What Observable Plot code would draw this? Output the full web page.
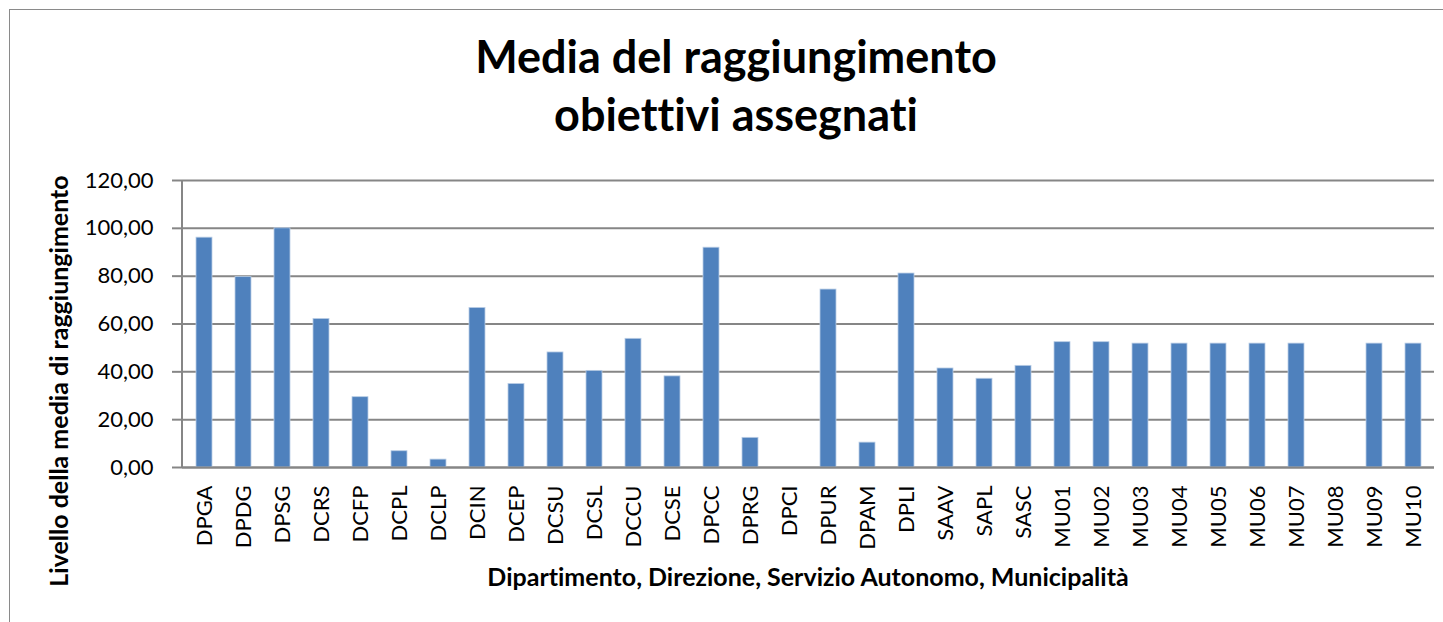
<!DOCTYPE html>
<html>
<head>
<meta charset="utf-8">
<script src="https://cdn.jsdelivr.net/npm/d3@7"></script>
<script src="https://cdn.jsdelivr.net/npm/@observablehq/plot@0.6"></script>
<style>
  html, body { margin: 0; padding: 0; background: #fff; }
  #wrap { position: relative; width: 1443px; height: 622px; overflow: hidden; font-family: Lato, "Open Sans", sans-serif; font-variant-ligatures: none; font-feature-settings: "liga" 0, "clig" 0; }
  #frame { position: absolute; left: 9px; top: 9px; width: 1500px; height: 700px; border: 1px solid #8a8a8a; box-sizing: border-box; }
  #title { position: absolute; left: 386px; top: 27px; width: 700px; text-align: center; font-weight: 700; font-size: 45px; line-height: 58px; color: #000; }
  #xtitle { position: absolute; left: 358px; top: 561px; width: 900px; text-align: center; font-weight: 700; font-size: 25px; line-height: 30px; color: #000; }
  #ytitle { position: absolute; left: -242px; top: 366px; width: 600px; height: 30px; text-align: center; font-weight: 700; font-size: 25px; line-height: 30px; color: #000; transform: rotate(-90deg); transform-origin: 50% 50%; }
  #chart { position: absolute; left: 0; top: 0; }
  #chart svg text { font-variant-ligatures: none; }
</style>
</head>
<body>
<div id="wrap">
  <div id="frame"></div>
  <div id="chart"></div>
  <div id="title">Media del raggiungimento<br>obiettivi assegnati</div>
  <div id="ytitle">Livello della media di raggiungimento</div>
  <div id="xtitle">Dipartimento, Direzione, Servizio Autonomo, Municipalità</div>
</div>
<script>
const categories = ["DPGA","DPDG","DPSG","DCRS","DCFP","DCPL","DCLP","DCIN","DCEP","DCSU","DCSL","DCCU","DCSE","DPCC","DPRG","DPCI","DPUR","DPAM","DPLI","SAAV","SAPL","SASC","MU01","MU02","MU03","MU04","MU05","MU06","MU07","MU08","MU09","MU10"];
const values = [96.1, 79.6, 100.0, 62.1, 29.4, 6.8, 3.3, 66.7, 34.9, 48.1, 40.4, 53.8, 38.1, 91.9, 12.4, 0, 74.4, 10.4, 81.1, 41.4, 37.1, 42.5, 52.4, 52.4, 51.8, 51.8, 51.8, 51.8, 51.8, 0, 51.8, 51.8];
const yTicks = [0, 20, 40, 60, 80, 100, 120];

const data = categories.map((c, i) => ({cat: c, val: values[i]}));

const yAxisLine = (index, scales, vals, dims) => {
  const ns = "http://www.w3.org/2000/svg";
  const l = document.createElementNS(ns, "line");
  const x = dims.marginLeft;
  l.setAttribute("x1", x); l.setAttribute("x2", x);
  l.setAttribute("y1", scales.y(120)); l.setAttribute("y2", scales.y(0));
  l.setAttribute("stroke", "#868686"); l.setAttribute("stroke-width", "2");
  return l;
};

const chart = Plot.plot({
  width: 1443,
  height: 622,
  marginLeft: 182,
  marginRight: 9,
  marginTop: 180,
  marginBottom: 155,
  style: { fontFamily: "Lato, 'Open Sans', sans-serif", fontSize: "21px", color: "#000", background: "transparent" },
  x: { domain: categories, paddingInner: 0.59, paddingOuter: 0.295, label: null },
  y: { domain: [0, 120], label: null },
  marks: [
    Plot.gridY(yTicks, { stroke: "#868686", strokeOpacity: 1, strokeWidth: 2 }),
    Plot.barY(data, { x: "cat", y: "val", fill: "#4f81bd", stroke: "#b9cde5", strokeWidth: 0.8 }),
    Plot.ruleY([0], { stroke: "#868686", strokeWidth: 2 }),
    yAxisLine,
    Plot.axisY(yTicks, { tickSize: 10, tickPadding: 19, stroke: "#868686", strokeWidth: 2, tickFormat: d => d.toFixed(2).replace(".", ","), fontSize: 22, fill: "#000", label: null }),
    Plot.axisX({ tickSize: 0, tickPadding: 18, tickRotate: -90, fontSize: 22, fill: "#000", label: null })
  ]
});
document.getElementById("chart").appendChild(chart);
</script>
</body>
</html>
